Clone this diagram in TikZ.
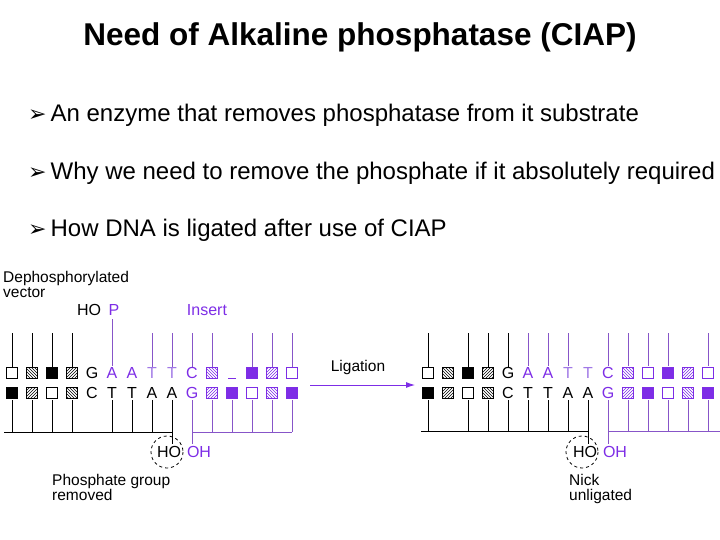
\documentclass[tikz,border=0pt]{standalone}
\usepackage{fontspec}
\setmainfont{Liberation Sans}
\newfontfamily\dv{DejaVu Sans}
\usetikzlibrary{patterns,arrows.meta}
\definecolor{pur}{RGB}{125,45,230}
\definecolor{plc}{RGB}{135,85,200}
\definecolor{pt}{RGB}{160,120,230}
\tikzset{
 bx/.style={rectangle,minimum size=11pt,inner sep=0pt,draw,line width=0.7pt},
 w/.style={bx,fill=white},
 b/.style={bx,fill=black},
 h/.style={bx,pattern=north east lines},
 g/.style={bx,pattern=north west lines},
 pw/.style={bx,draw=pur,fill=white},
 pb/.style={bx,draw=pur,fill=pur},
 ph/.style={bx,draw=pur,pattern=north east lines,pattern color=pur},
 pg/.style={bx,draw=pur,pattern=north west lines,pattern color=pur},
 lk/.style={inner sep=0pt,font=\fontsize{16}{16}\selectfont},
 lp/.style={lk,text=pur},
 lt/.style={lk,text=pt},
 sm/.style={inner sep=0pt,font=\fontsize{16}{16}\selectfont},
 lab/.style={inner sep=0pt,font=\fontsize{15.5}{17}\selectfont,align=left,anchor=north west},
 bl/.style={black,line width=0.8pt},
 pln/.style={draw=plc,line width=0.8pt},
 bul/.style={anchor=west,inner sep=0pt,font=\fontsize{24}{24}\selectfont},
}
\begin{document}
\begin{tikzpicture}[x=1pt,y=-1pt]
\useasboundingbox (0,0) rectangle (720,540);
\node[font=\fontsize{31.5}{32}\selectfont\bfseries] (title) at (360,37) {Need of Alkaline phosphatase (CIAP)};
\node[bul] (b1) at (28,115) {{\dv\fontsize{22}{22}\selectfont ➢}\,An enzyme that removes phosphatase from it substrate};
\node[bul] (b2) at (28,173) {{\dv\fontsize{22}{22}\selectfont ➢}\,Why we need to remove the phosphate if it absolutely required};
\node[bul] (b3) at (28,230) {{\dv\fontsize{22}{22}\selectfont ➢}\,How DNA is ligated after use of CIAP};
% ---------- left diagram
\node[lab] (dv) at (3,271) {Dephosphorylated\\[-2pt]vector};
\node[sm] (ho1) at (89,310) {HO};
\node[sm,text=pur] (p1) at (114,310) {P};
\node[sm,text=pur] (ins) at (207,310) {Insert};
\foreach \x in {12,32,52,72} \draw[bl] (\x,333) -- (\x,368);
\draw[pln] (112,319) -- (112,366);
\foreach \x in {152,172,192,212,252,272,292} \draw[pln] (\x,333) -- (\x,368);
\foreach \x/\s in {12/w,32/g,52/b,72/h,212/pg,252/pb,272/ph,292/pw} \node[\s] at (\x,373) {};
\node[lk] at (92,373) {G};
\foreach \x in {112,132} \node[lp] at (\x,373) {A};
\foreach \x in {152,172} \node[lt] at (\x,373) {T};
\node[lp] at (192,373) {C};
\draw[pur,line width=0.8pt] (228,378) -- (236,378);
\foreach \x/\s in {12/b,32/h,52/w,72/g,212/ph,232/pb,252/pw,272/pg,292/pb} \node[\s] at (\x,393) {};
\node[lk] at (92,393) {C};
\foreach \x in {112,132} \node[lk] at (\x,393) {T};
\foreach \x in {152,172} \node[lk] at (\x,393) {A};
\node[lp] at (192,393) {G};
\foreach \x in {12,32,52,72,112,132,152} \draw[bl] (\x,400) -- (\x,432);
\draw[bl] (172,400) -- (172,444);
\draw[bl] (4,432) -- (172,432);
\draw[pln] (192,400) -- (192,444);
\foreach \x in {212,232,252,272,292} \draw[pln] (\x,400) -- (\x,432);
\draw[pln] (192,432) -- (292,432);
\node[sm] (ho2) at (169,452) {HO};
\node[sm,text=pur] (oh1) at (199,452) {OH};
\draw[dashed,line width=0.8pt] (167,452) circle (16);
\node[lab] (pgr) at (52,474) {Phosphate group\\[-2pt]removed};
\node[sm,font=\fontsize{15.5}{16}\selectfont] (lig) at (358,367) {Ligation};
\coordinate (a0) at (310,385);
\coordinate (a1) at (415,385);
\draw[draw=pur,line width=0.9pt,-{Latex[length=9pt,width=6pt]}] (a0) -- (a1);
% ---------- right diagram
\foreach \x in {428,468,488,508} \draw[bl] (\x,333) -- (\x,368);
\foreach \x in {528,548,568,608,628,648,668,708} \draw[pln] (\x,333) -- (\x,366);
\foreach \x/\s in {428/w,448/g,468/b,488/h,628/pg,648/pw,668/pb,688/ph,708/pw} \node[\s] at (\x,373) {};
\node[lk] at (508,373) {G};
\foreach \x in {528,548} \node[lp] at (\x,373) {A};
\foreach \x in {568,588} \node[lt] at (\x,373) {T};
\node[lp] at (608,373) {C};
\foreach \x/\s in {428/b,448/h,468/w,488/g,628/ph,648/pb,668/pw,688/pg,708/pb} \node[\s] at (\x,393) {};
\node[lk] at (508,393) {C};
\foreach \x in {528,548} \node[lk] at (\x,393) {T};
\foreach \x in {568,588} \node[lk] at (\x,393) {A};
\node[lp] at (608,393) {G};
\foreach \x in {428,468,488,508,528,548,568} \draw[bl] (\x,400) -- (\x,431);
\draw[bl] (588,400) -- (588,444);
\draw[bl] (421,431) -- (588,431);
\draw[pln] (608,400) -- (608,444);
\foreach \x in {628,648,668,688,708} \draw[pln] (\x,400) -- (\x,431);
\draw[pln] (608,431) -- (720,431);
\node[sm] (ho3) at (585,452) {HO};
\node[sm,text=pur] (oh2) at (615,452) {OH};
\draw[dashed,line width=0.8pt] (582,452) circle (16);
\node[lab] (nick) at (569,474) {Nick\\[-2pt]unligated};
\end{tikzpicture}
\end{document}
